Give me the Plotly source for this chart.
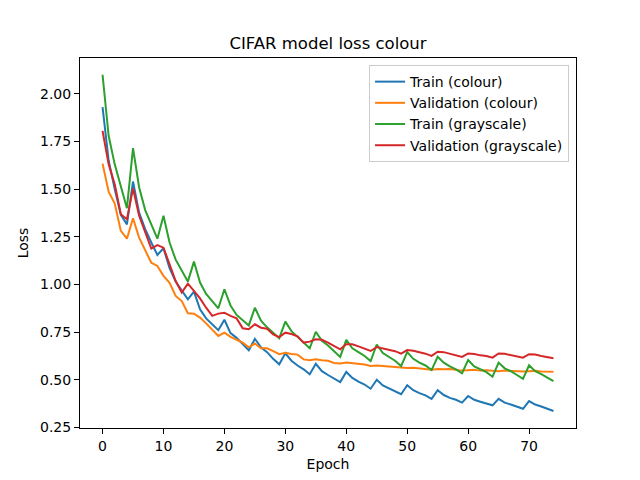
import plotly.graph_objects as go

epochs = list(range(75))

train_colour = [1.93, 1.65, 1.50, 1.365, 1.315, 1.54, 1.377, 1.29, 1.22, 1.155,
                1.19, 1.085, 1.015, 0.966, 0.922, 0.962, 0.87, 0.822, 0.79, 0.76,
                0.815, 0.745, 0.72, 0.69, 0.655, 0.715, 0.67, 0.645, 0.61, 0.581,
                0.639, 0.60, 0.575, 0.555, 0.529, 0.584, 0.545, 0.525, 0.505, 0.488,
                0.541, 0.51, 0.49, 0.475, 0.453, 0.50, 0.47, 0.455, 0.44, 0.424,
                0.471, 0.445, 0.43, 0.418, 0.40, 0.445, 0.42, 0.405, 0.395, 0.38,
                0.415, 0.395, 0.385, 0.375, 0.366, 0.40, 0.38, 0.37, 0.36, 0.348,
                0.388, 0.37, 0.36, 0.35, 0.336]

val_colour = [1.634, 1.487, 1.424, 1.281, 1.24, 1.347, 1.246, 1.176, 1.114, 1.097,
              1.045, 1.009, 0.94, 0.913, 0.849, 0.847, 0.826, 0.796, 0.765, 0.73,
              0.747, 0.725, 0.71, 0.695, 0.67, 0.69, 0.665, 0.665, 0.65, 0.634,
              0.642, 0.635, 0.632, 0.607, 0.602, 0.607, 0.603, 0.600, 0.588, 0.585,
              0.59, 0.587, 0.585, 0.58, 0.572, 0.575, 0.572, 0.57, 0.565, 0.563,
              0.562, 0.563, 0.56, 0.558, 0.553, 0.557, 0.555, 0.557, 0.552, 0.548,
              0.55, 0.552, 0.548, 0.55, 0.547, 0.545, 0.548, 0.546, 0.544, 0.543,
              0.545, 0.547, 0.544, 0.543, 0.542]

train_gray = [2.10, 1.78, 1.63, 1.51, 1.40, 1.715, 1.51, 1.39, 1.315, 1.24,
              1.36, 1.22, 1.13, 1.07, 1.015, 1.12, 1.01, 0.95, 0.91, 0.875,
              0.975, 0.89, 0.84, 0.81, 0.785, 0.878, 0.81, 0.775, 0.745, 0.718,
              0.805, 0.755, 0.725, 0.695, 0.665, 0.752, 0.705, 0.68, 0.65, 0.62,
              0.709, 0.665, 0.645, 0.625, 0.598, 0.685, 0.64, 0.62, 0.60, 0.572,
              0.645, 0.61, 0.59, 0.575, 0.551, 0.621, 0.59, 0.57, 0.555, 0.534,
              0.604, 0.57, 0.555, 0.54, 0.516, 0.59, 0.56, 0.545, 0.525, 0.505,
              0.576, 0.545, 0.53, 0.512, 0.493]

val_gray = [1.806, 1.63, 1.526, 1.368, 1.342, 1.503, 1.36, 1.272, 1.188, 1.206,
            1.193, 1.106, 1.018, 0.957, 1.004, 0.966, 0.927, 0.878, 0.835, 0.847,
            0.852, 0.835, 0.822, 0.77, 0.765, 0.791, 0.773, 0.768, 0.738, 0.724,
            0.747, 0.74, 0.728, 0.695, 0.70, 0.712, 0.71, 0.695, 0.677, 0.66,
            0.686, 0.686, 0.675, 0.665, 0.651, 0.672, 0.665, 0.66, 0.65, 0.637,
            0.656, 0.652, 0.645, 0.637, 0.625, 0.647, 0.645, 0.638, 0.63, 0.62,
            0.638, 0.635, 0.628, 0.625, 0.616, 0.638, 0.636, 0.628, 0.622, 0.616,
            0.634, 0.632, 0.625, 0.618, 0.613]

series = [
    ("Train (colour)", train_colour, "#1f77b4"),
    ("Validation (colour)", val_colour, "#ff7f0e"),
    ("Train (grayscale)", train_gray, "#2ca02c"),
    ("Validation (grayscale)", val_gray, "#d62728"),
]

fig = go.Figure()
for name, vals, col in series:
    fig.add_trace(go.Scatter(x=epochs, y=vals, mode="lines", name=name,
                             line=dict(color=col, width=2)))

# the page body adds 8px, so margins are trimmed to put the axes where matplotlib has them
axis_style = dict(showline=True, linecolor="black", linewidth=1, mirror=True,
                  ticks="outside", ticklen=5, tickcolor="black", showgrid=False,
                  zeroline=False, automargin=False, tickfont=dict(size=14, color="black"))

fig.update_layout(
    width=640, height=480,
    font=dict(family="DejaVu Sans", color="black"),
    plot_bgcolor="white", paper_bgcolor="white",
    margin=dict(l=72, r=72, t=50, b=60),
    title=dict(text="CIFAR model loss colour", x=0.5, xanchor="center", xref="paper",
               y=1 - 35 / 480, yanchor="middle", font=dict(size=16.5)),
    xaxis=dict(range=[-3.7, 77.7], tickvals=[0, 10, 20, 30, 40, 50, 60, 70],
               title=dict(text="Epoch", font=dict(size=14), standoff=6), **axis_style),
    yaxis=dict(range=[0.247, 2.188], tickvals=[0.25, 0.5, 0.75, 1.0, 1.25, 1.5, 1.75, 2.0],
               tickformat=".2f",
               title=dict(text="Loss", font=dict(size=14), standoff=8), **axis_style),
    legend=dict(x=0.986, y=0.981, xanchor="right", yanchor="top",
                bgcolor="rgba(255,255,255,0.8)", bordercolor="#cccccc", borderwidth=1,
                font=dict(size=14), tracegroupgap=0),
    showlegend=True,
)

fig.write_html("out.html")
